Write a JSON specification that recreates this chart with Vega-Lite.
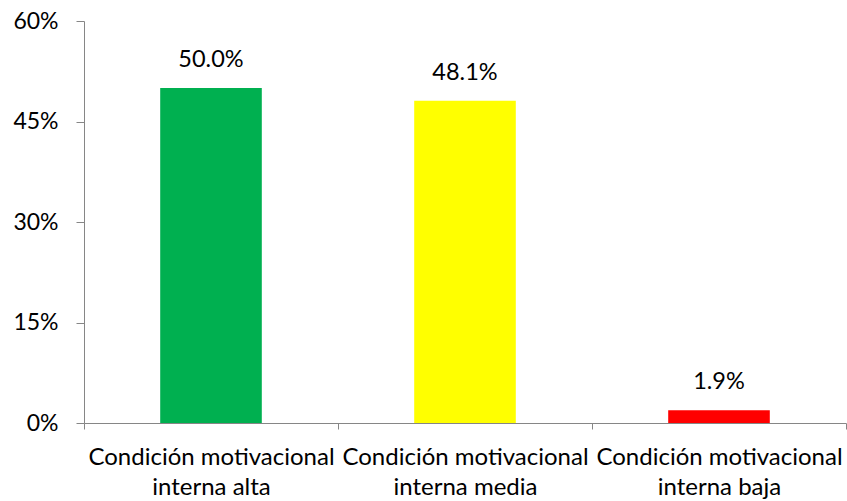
{
  "$schema": "https://vega.github.io/schema/vega-lite/v6.json",
  "autosize": "none",
  "width": 762,
  "height": 402,
  "padding": {"left": 84, "top": 21, "right": 1, "bottom": 78},
  "background": "white",
  "config": {
    "view": {"stroke": null},
    "font": "Lato"
  },
  "data": {
    "values": [
      {"condicion": "Condición motivacional interna alta", "pct": 0.5},
      {"condicion": "Condición motivacional interna media", "pct": 0.481},
      {"condicion": "Condición motivacional interna baja", "pct": 0.019}
    ]
  },
  "encoding": {
    "x": {
      "field": "condicion",
      "type": "nominal",
      "sort": null,
      "scale": {"paddingInner": 0, "paddingOuter": 0},
      "axis": {
        "title": null,
        "labelAngle": 0,
        "tickBand": "extent",
        "domainColor": "#868686",
        "tickColor": "#868686",
        "tickSize": 6,
        "labelFont": "Lato",
        "labelFontSize": 24,
        "labelColor": "#000000",
        "labelPadding": 16,
        "labelLineHeight": 30,
        "labelLimit": 0,
        "labelOverlap": false,
        "labelBaseline": "top",
        "labelExpr": "[slice(datum.label, 0, 22), slice(datum.label, 23)]"
      }
    },
    "y": {
      "field": "pct",
      "type": "quantitative",
      "scale": {"domain": [0, 0.6], "nice": false},
      "axis": {
        "title": null,
        "values": [0, 0.15, 0.3, 0.45, 0.6],
        "format": ".0%",
        "grid": false,
        "domainColor": "#868686",
        "tickColor": "#868686",
        "tickSize": 8,
        "labelFont": "Lato",
        "labelFontSize": 23,
        "labelColor": "#000000",
        "labelPadding": 18
      }
    }
  },
  "layer": [
    {
      "mark": {"type": "bar", "width": {"band": 0.4}},
      "encoding": {
        "color": {
          "field": "condicion",
          "type": "nominal",
          "scale": {
            "domain": [
              "Condición motivacional interna alta",
              "Condición motivacional interna media",
              "Condición motivacional interna baja"
            ],
            "range": ["#00B050", "#FFFF00", "#FF0000"]
          },
          "legend": null
        }
      }
    },
    {
      "mark": {
        "type": "text",
        "baseline": "bottom",
        "dy": -16,
        "fontSize": 23.5,
        "font": "Lato",
        "color": "#000000"
      },
      "encoding": {
        "text": {"field": "pct", "type": "quantitative", "format": ".1%"}
      }
    }
  ]
}
